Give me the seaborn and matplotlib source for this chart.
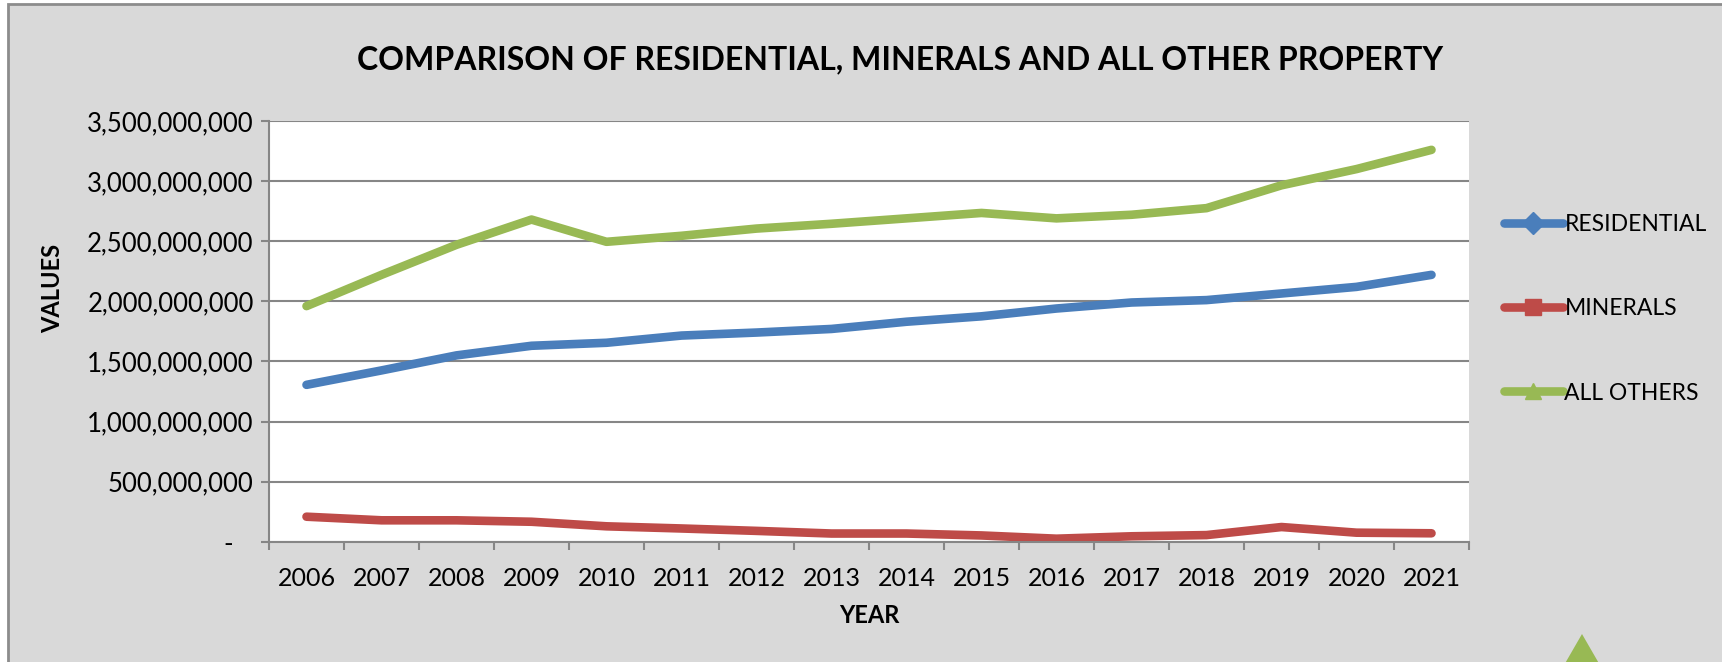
import numpy as np
import pandas as pd
import matplotlib
matplotlib.use('Agg')
import matplotlib.pyplot as plt
from matplotlib.lines import Line2D
from matplotlib.patches import Rectangle, RegularPolygon
from matplotlib.ticker import FuncFormatter, MultipleLocator
import seaborn as sns

# data
years = [str(y) for y in range(2006, 2022)]
residential = [1.305e9, 1.425e9, 1.55e9, 1.63e9, 1.655e9, 1.715e9, 1.74e9, 1.77e9,
               1.83e9, 1.875e9, 1.94e9, 1.99e9, 2.01e9, 2.065e9, 2.12e9, 2.22e9]
minerals = [208e6, 178e6, 178e6, 166e6, 128e6, 110e6, 90e6, 68e6,
            68e6, 52e6, 25e6, 45e6, 55e6, 122e6, 75e6, 70e6]
all_others = [1.96e9, 2.22e9, 2.47e9, 2.68e9, 2.495e9, 2.545e9, 2.605e9, 2.645e9,
              2.69e9, 2.735e9, 2.69e9, 2.72e9, 2.775e9, 2.965e9, 3.1e9, 3.26e9]
series_names = ['RESIDENTIAL', 'MINERALS', 'ALL OTHERS']
series_colors = ['#4a7ebb', '#be4b48', '#98b954']
series_markers = ['D', 's', '^']

df = pd.DataFrame({'YEAR': years * 3,
                   'VALUE': residential + minerals + all_others,
                   'SERIES': [n for n in series_names for _ in years]})

sns.set_style('white')
plt.rcParams['font.family'] = ['Lato', 'DejaVu Sans']
plt.rcParams.update({'text.color': 'black', 'axes.labelcolor': 'black',
                     'xtick.labelcolor': 'black', 'ytick.labelcolor': 'black'})

fig = plt.figure(figsize=(17.22, 6.62), dpi=100)
fig.patch.set_facecolor('white')
# chart area background with border
fig.add_artist(Rectangle((8 / 1722, -0.01), 1.02, 1 - 4 / 662 + 0.01,
                         transform=fig.transFigure, facecolor='#d9d9d9',
                         edgecolor='#8c8c8c', linewidth=2, zorder=-10))

ax = fig.add_axes([269 / 1722, 1 - 541.7 / 662, 1200 / 1722, 420.7 / 662])
ax.set_facecolor('white')

sns.lineplot(data=df, x='YEAR', y='VALUE', hue='SERIES', palette=series_colors,
             linewidth=6.2, legend=False, ax=ax, sort=False)
for line in ax.get_lines():
    line.set_solid_capstyle('round')
    line.set_solid_joinstyle('round')

ax.set_xlim(-0.5, len(years) - 0.5)
ax.set_ylim(0, 3.5e9)
ax.yaxis.set_major_locator(MultipleLocator(5e8))
ax.yaxis.set_major_formatter(FuncFormatter(
    lambda v, p: '-   ' if v == 0 else f'{v:,.0f}'))
ax.grid(axis='y', color='#868686', linewidth=1.5)
ax.set_axisbelow(True)

ax.set_xticks(range(len(years)))
ax.set_xticklabels(years)
ax.set_xticks(np.arange(-0.5, len(years)), minor=True)
ax.tick_params(axis='x', which='major', length=0, pad=18, labelsize=18)
ax.tick_params(axis='x', which='minor', length=6, width=1.5, color='#868686',
               direction='out', bottom=True)
ax.tick_params(axis='y', length=6, width=1.5, color='#868686', direction='out',
               left=True, pad=5, labelsize=18.5)

for s in ['top', 'right']:
    ax.spines[s].set_visible(False)
for s in ['left', 'bottom']:
    ax.spines[s].set_color('#868686')
    ax.spines[s].set_linewidth(1.5)

ax.set_xlabel('YEAR', fontsize=17, fontweight='bold', labelpad=10)
ax.set_ylabel('VALUES', fontsize=17, fontweight='bold')
ax.yaxis.set_label_coords(-0.171, 0.603)

fig.suptitle('COMPARISON OF RESIDENTIAL, MINERALS AND ALL OTHER PROPERTY',
             x=900 / 1722, y=1 - 60 / 662, va='center', fontsize=23,
             fontweight='bold')

handles = [Line2D([], [], color=c, linewidth=6.2, marker=m, markersize=11,
                  solid_capstyle='round')
           for c, m in zip(series_colors, series_markers)]
ax.legend(handles, series_names, loc='center left',
          bbox_to_anchor=(1495 / 1722, 1 - 309 / 662), bbox_transform=fig.transFigure,
          frameon=False, fontsize=16.5, handlelength=2.55, handletextpad=0.08,
          labelspacing=2.75, borderaxespad=0)

# partial triangle visible at the lower right corner
fig.add_artist(RegularPolygon((15.82, -0.02), 3, radius=0.3,
                              transform=fig.dpi_scale_trans, facecolor='#98b954',
                              edgecolor='none', clip_on=False))

fig.savefig('out.png', dpi=100, facecolor=fig.get_facecolor())
